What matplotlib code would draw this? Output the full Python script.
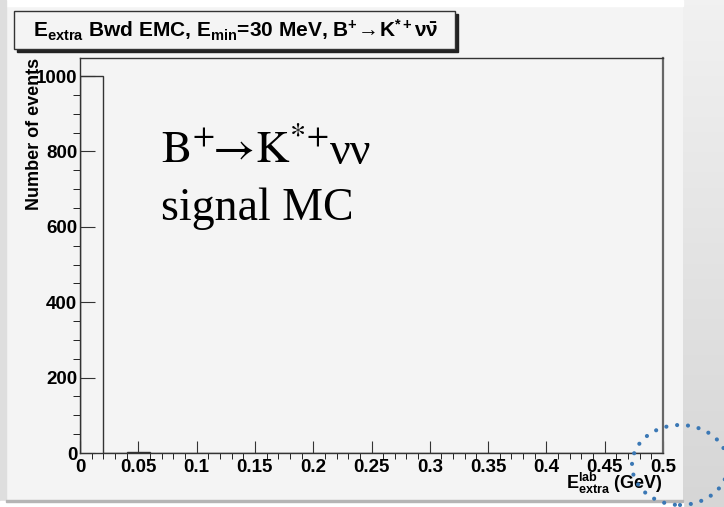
import numpy as np
import matplotlib.pyplot as plt
from matplotlib.patches import Rectangle, Ellipse
from matplotlib.transforms import IdentityTransform
from matplotlib.colors import LinearSegmentedColormap
from matplotlib.ticker import MultipleLocator, FuncFormatter

plt.rcParams['font.family'] = ['Liberation Sans', 'DejaVu Sans']
plt.rcParams['mathtext.fontset'] = 'custom'
plt.rcParams['mathtext.rm'] = 'Liberation Sans:bold'
plt.rcParams['mathtext.it'] = 'Liberation Sans:bold'
plt.rcParams['mathtext.bf'] = 'Liberation Sans:bold'

# Histogram data: E_extra (GeV), 25 bins of 0.02
bin_edges = np.linspace(0, 0.5, 26)
counts = [1000, 0, 3, 0, 0, 0, 0, 0, 0, 0, 0, 0, 0,
          0, 0, 0, 0, 0, 0, 0, 0, 0, 0, 0, 0]

title = (r'E$_{\mathrm{extra}}$ Bwd EMC, E$_{\mathrm{min}}$=30 MeV, '
         r'B$^{+}\!\rightarrow\!$K$^{*+}\nu\bar{\nu}$')

W, H = 724, 507
fig = plt.figure(figsize=(W / 100, H / 100), dpi=100, facecolor='#f4f4f4')
px = IdentityTransform()

# slide-like background pieces
bg = fig.add_axes([683 / W, 0, 1 - 683 / W, 1], zorder=-2)
cmap = LinearSegmentedColormap.from_list('g', ['#f1f1f1', '#d6d6d6'])
bg.imshow(np.linspace(0, 1, 100)[:, None], cmap=cmap, aspect='auto')
bg.axis('off')
fig.add_artist(Rectangle((0, H - 6), 683, 6, transform=px, color='white', zorder=-1))
fig.add_artist(Rectangle((0, 0), 6, H, transform=px, color='#dedede', zorder=-1))
fig.add_artist(Rectangle((0, 0), 683, 6, transform=px, color='white', zorder=-1))
fig.add_artist(Rectangle((6, 5), 677, 2.5, transform=px, color='#b5b5b5', zorder=-1))

# main axes
ax = fig.add_axes([80 / W, 1 - 453 / H, 583 / W, 395 / H], facecolor='#f4f4f4')
ax.stairs(counts, bin_edges, color='#333333', lw=1)
ax.set_xlim(0, 0.5)
ax.set_ylim(0, 1048)

ax.xaxis.set_major_locator(MultipleLocator(0.05))
ax.xaxis.set_minor_locator(MultipleLocator(0.01))
ax.yaxis.set_major_locator(MultipleLocator(200))
ax.yaxis.set_minor_locator(MultipleLocator(50))
ax.xaxis.set_major_formatter(FuncFormatter(lambda v, p: '%g' % round(v, 3)))
ax.tick_params(direction='in', labelsize=13.5, color='#333333', width=0.8)
ax.tick_params(axis='x', which='major', length=8.6, pad=4)
ax.tick_params(axis='x', which='minor', length=4.3)
ax.tick_params(axis='y', which='major', length=10.8, pad=2)
ax.tick_params(axis='y', which='minor', length=5.2)
for lab in ax.get_xticklabels() + ax.get_yticklabels():
    lab.set_fontweight('bold')
for s in ax.spines.values():
    s.set_color('#333333')
    s.set_linewidth(1)
ax.spines['right'].set_color('#666666')
ax.spines['right'].set_linewidth(1.6)

ax.set_ylabel('Number of events', fontsize=13, fontweight='bold', loc='top')
ax.yaxis.set_label_coords(-0.063, 1.0)
ax.set_xlabel(r'E$^{\mathrm{lab}}_{\mathrm{extra}}$ (GeV)', fontsize=13,
              fontweight='bold', loc='right')
ax.xaxis.set_label_coords(1.0, -0.045)

decay = ax.text(0.139, 0.732, r'$\mathrm{B^{+}\!\!\rightarrow\! K^{*\!+}}$',
                transform=ax.transAxes, fontsize=33, math_fontfamily='stix',
                va='baseline', color='black')
ax.annotate('νν', xy=(1, 0.732), xycoords=(decay, ax.transAxes), xytext=(1, 0),
            textcoords='offset points', fontsize=33, family='Liberation Serif',
            va='baseline', color='black')
ax.text(0.139, 0.59, 'signal MC', transform=ax.transAxes, fontsize=33,
        family='Liberation Serif', va='baseline', color='black')

# title box with shadow
fig.add_artist(Rectangle((17, H - 52), 441, 38, transform=px, color='#222222'))
fig.add_artist(Rectangle((14, H - 49), 441, 38, transform=px,
                         facecolor='#f4f4f4', edgecolor='#333333', lw=1))
fig.text(236 / W, 1 - 30 / H, title, ha='center', va='center', fontsize=15,
         fontweight='bold')

# dotted highlight circle
fig.add_artist(Ellipse((680, H - 465), 96, 80, transform=px, fill=False,
                       edgecolor='#3b78b5', lw=3, linestyle=(0, (0.01, 2.6)),
                       capstyle='round', zorder=5))

fig.savefig('out.png', dpi=100, facecolor=fig.get_facecolor())
